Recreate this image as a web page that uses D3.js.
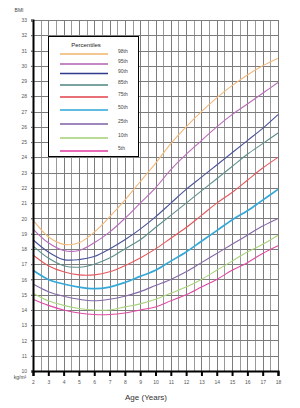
<!DOCTYPE html>
<html><head><meta charset="utf-8">
<script src="https://cdn.jsdelivr.net/npm/d3@7"></script>
<style>
html,body{margin:0;padding:0;background:#fff;}
svg{display:block;font-family:"Liberation Sans",Arial,sans-serif;}
</style></head>
<body>
<svg id="chart" width="300" height="408"></svg>
<script>
const ages = [2,3,4,5,6,7,8,9,10,11,12,13,14,15,16,17,18];
const p98 = [19.9,18.8,18.3,18.4,19.1,20.1,21.2,22.4,23.6,24.9,26.0,27.0,27.9,28.7,29.4,30.0,30.5];
const p95 = [19.3,18.4,17.9,17.9,18.4,19.1,20.0,21.0,22.0,23.2,24.2,25.1,26.0,26.8,27.5,28.2,28.9];
const p90 = [18.6,17.8,17.3,17.3,17.5,18.0,18.6,19.3,20.1,21.0,21.9,22.7,23.5,24.3,25.1,25.9,26.8];
const p85 = [18.2,17.4,16.9,16.8,17.0,17.4,18.0,18.6,19.4,20.2,21.0,21.8,22.6,23.4,24.2,24.9,25.6];
const p75 = [17.6,16.9,16.5,16.3,16.3,16.5,16.9,17.4,18.0,18.7,19.4,20.2,21.0,21.7,22.5,23.3,24.0];
const p50 = [16.6,16.0,15.7,15.5,15.4,15.5,15.8,16.2,16.6,17.2,17.8,18.5,19.2,19.9,20.5,21.2,21.9];
const p25 = [15.7,15.2,14.9,14.7,14.6,14.7,14.9,15.2,15.6,16.0,16.5,17.1,17.7,18.3,18.9,19.5,20.0];
const p10 = [15.1,14.6,14.3,14.1,14.0,14.0,14.2,14.4,14.7,15.1,15.5,16.0,16.6,17.2,17.8,18.3,18.9];
const p5  = [14.7,14.3,14.0,13.8,13.7,13.7,13.8,14.0,14.2,14.6,15.0,15.5,16.0,16.6,17.1,17.7,18.2];
const seriesNames = ["98th","95th","90th","85th","75th","50th","25th","10th","5th"];
const seriesValues = [p98,p95,p90,p85,p75,p50,p25,p10,p5];
const seriesColors = ["#efb36e","#b260b4","#2e3a8c","#4c8580","#e2404a","#2ea6d8","#7e5fa3","#a2cf72","#e0389e"];
const curveColors  = ["#f2b87a","#b86cba","#4a5498","#5e8f8c","#e5585e","#35a8d8","#8668a8","#a8d47c","#e04aa2"];
const yTicks = d3.range(10,34);
const xTicks = d3.range(2,19);

const svg = d3.select("#chart");
svg.append("rect").attr("width",300).attr("height",408).attr("fill","#fff");

const x = d3.scaleLinear().domain([2,18]).range([33,278]);
const y = d3.scaleLinear().domain([10,33]).range([371,20]);

// grid
const g = svg.append("g");
g.selectAll("line.v").data(d3.range(2,18.01,0.5)).join("line")
  .attr("x1",d=>Math.round(x(d))+0.5).attr("x2",d=>Math.round(x(d))+0.5)
  .attr("y1",y(33)).attr("y2",y(10))
  .attr("stroke",d=>Number.isInteger(d)?"#7c7c7c":"#9a9a9a").attr("stroke-width",1);
g.selectAll("line.h").data(yTicks).join("line")
  .attr("x1",31).attr("x2",x(18))
  .attr("y1",d=>Math.round(y(d))+0.5).attr("y2",d=>Math.round(y(d))+0.5)
  .attr("stroke","#7c7c7c").attr("stroke-width",1);

// curves
const line = d3.line().x((d,i)=>x(ages[i])).y(d=>y(d)).curve(d3.curveCatmullRom.alpha(0.5));
svg.selectAll("path.curve").data(seriesValues).join("path")
  .attr("d",line).attr("fill","none")
  .attr("stroke",(d,i)=>curveColors[i])
  .attr("stroke-width",(d,i)=>seriesNames[i]==="50th"?1.7:1.1);

// y axis
const ya = svg.append("g").attr("transform","translate(33,0)")
  .call(d3.axisLeft(y).tickValues(yTicks).tickSize(2).tickPadding(4).tickFormat(d3.format("d")));
ya.select(".domain").attr("stroke","#000").attr("stroke-width",2);
ya.selectAll(".tick line").attr("stroke","#666");
ya.selectAll("text").attr("font-size",5).attr("fill","#555").attr("font-family","Liberation Sans, Arial, sans-serif");

// x axis
const xa = svg.append("g").attr("transform","translate(0,371)")
  .call(d3.axisBottom(x).tickValues(xTicks).tickSize(5).tickPadding(4).tickFormat(d3.format("d")));
xa.select(".domain").attr("stroke","#000").attr("stroke-width",2);
xa.selectAll(".tick line").attr("stroke","#000").attr("stroke-width",2);
xa.selectAll("text").attr("font-size",5).attr("fill","#555").attr("font-family","Liberation Sans, Arial, sans-serif");

// labels
svg.append("text").attr("x",19).attr("y",12).attr("text-anchor","middle")
  .attr("font-size",5).attr("fill","#444").text("BMI");
svg.append("text").attr("x",20).attr("y",379).attr("text-anchor","middle")
  .attr("font-size",5).attr("fill","#444").text("kg/m²");
svg.append("text").attr("x",146).attr("y",400).attr("text-anchor","middle")
  .attr("font-size",8).attr("fill","#333").text("Age (Years)");

// legend
const lg = svg.append("g");
lg.append("rect").attr("x",48.5).attr("y",36.5).attr("width",90).attr("height",120)
  .attr("fill","#fff").attr("stroke","#000").attr("stroke-width",1);
lg.append("text").attr("x",86).attr("y",47).attr("text-anchor","middle")
  .attr("font-size",6).attr("fill","#222").text("Percentiles");
const rowY = [54,64,73.5,85,97,110,124,138,151];
seriesNames.forEach((n,i)=>{
  lg.append("line").attr("x1",60).attr("x2",108).attr("y1",rowY[i]).attr("y2",rowY[i])
    .attr("stroke",seriesColors[i]).attr("stroke-width",1.6);
  lg.append("text").attr("x",118).attr("y",rowY[i]-1).attr("font-size",5).attr("fill","#444").text(n);
});
</script>
</body></html>
